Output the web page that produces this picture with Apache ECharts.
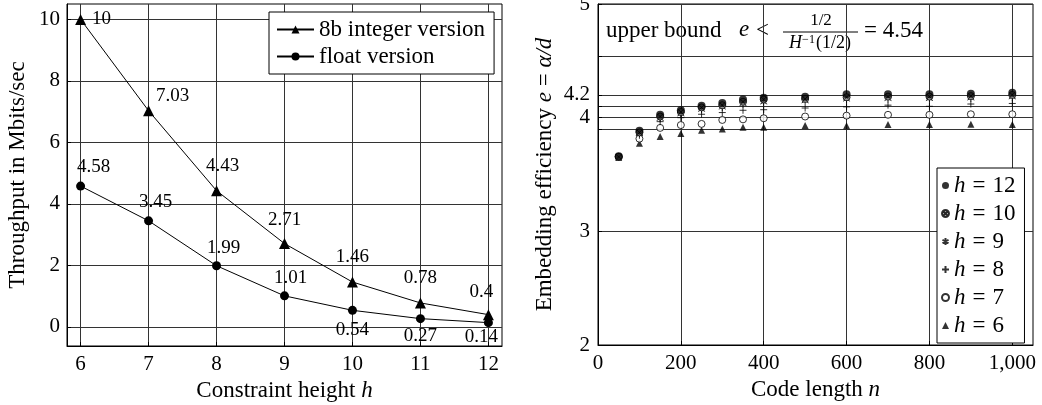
<!DOCTYPE html>
<html>
<head>
<meta charset="utf-8">
<script src="https://cdn.jsdelivr.net/npm/echarts@6/dist/echarts.min.js"></script>
<style>
  html, body { margin: 0; padding: 0; background: #fff; }
  #chart { width: 1042px; height: 405px; }
</style>
</head>
<body>
<div id="chart"></div>
<script>
// left panel: throughput vs constraint height
const heights = [6, 7, 8, 9, 10, 11, 12]
const intThroughput = [10, 7.03, 4.43, 2.71, 1.46, 0.78, 0.4]
const floatThroughput = [4.58, 3.45, 1.99, 1.01, 0.54, 0.27, 0.14]
const leftYTicks = [0, 2, 4, 6, 8, 10]

// right panel: embedding efficiency vs code length
const codeLengths = [50, 100, 150, 200, 250, 300, 350, 400, 500, 600, 700, 800, 900, 1000]
const effH12 = [3.66, 3.885, 4.025, 4.065, 4.105, 4.13, 4.16, 4.175, 4.185, 4.205, 4.205, 4.205, 4.21, 4.22]
const effH10 = [3.655, 3.87, 4.01, 4.05, 4.09, 4.11, 4.14, 4.16, 4.165, 4.18, 4.185, 4.185, 4.19, 4.2]
const effH9 = [3.655, 3.86, 3.99, 4.03, 4.07, 4.09, 4.12, 4.135, 4.145, 4.16, 4.165, 4.165, 4.17, 4.18]
const effH8 = [3.655, 3.845, 3.965, 4.0, 4.03, 4.045, 4.065, 4.07, 4.085, 4.095, 4.11, 4.1, 4.12, 4.125]
const effH7 = [3.655, 3.815, 3.91, 3.935, 3.945, 3.98, 3.985, 3.995, 4.01, 4.018, 4.025, 4.025, 4.03, 4.03]
const effH6 = [3.65, 3.775, 3.835, 3.86, 3.89, 3.9, 3.915, 3.915, 3.93, 3.928, 3.94, 3.94, 3.943, 3.94]
const rightXTicks = [0, 200, 400, 600, 800, 1000]
const rightYLabels = [2, 3, 4, 4.2, 5]
const rightYGrid = [2, 3, 3.9, 4, 4.1, 4.2, 4.54, 5]

const FONT = 'Liberation Serif'

// label offsets for the point annotations (dx, dy from the marker)
const intOffsets = [[21, 0], [24, -15], [6, -25], [0, -24], [0, -25], [0, -25], [-7, -23]]
const floatOffsets = [[13, -19], [7, -19], [7, -18], [6, -18], [0, 20], [0, 17], [-7, 14]]

function pairs(xs, ys) {
  return xs.map((x, i) => [x, ys[i]])
}

function labelled(xs, ys, offsets) {
  return xs.map((x, i) => ({
    value: [x, ys[i]],
    label: { position: 'inside', offset: offsets[i], formatter: String(ys[i]) }
  }))
}

const gridLine = { show: true, lineStyle: { color: '#333', width: 1 } }

function valueAxis(opts) {
  return Object.assign({
    type: 'value',
    axisLine: { show: true, onZero: false, lineStyle: { color: '#000' } },
    splitLine: gridLine,
    nameLocation: 'middle',
    nameTextStyle: { fontFamily: FONT, fontSize: 23, color: '#000', rich: {
      r: { fontFamily: FONT, fontSize: 23, color: '#000' },
      i: { fontFamily: FONT, fontSize: 23, color: '#000', fontStyle: 'italic' }
    } }
  }, opts)
}

function ticks(values) {
  return { show: true, inside: true, length: 4, customValues: values, lineStyle: { color: '#000' } }
}

function tickLabels(values, extra) {
  return Object.assign({
    customValues: values,
    fontFamily: FONT,
    fontSize: 21,
    color: '#000'
  }, extra)
}

const plusPath = 'path://M0,5 L10,5 M5,0 L5,10'
const starPath = 'path://M5,0 L5,10 M0.67,2.5 L9.33,7.5 M0.67,7.5 L9.33,2.5'
const otimesPath = 'path://M10,5 A5,5 0 1 1 0,5 A5,5 0 1 1 10,5 Z M1.5,1.5 L8.5,8.5 M1.5,8.5 L8.5,1.5'

const myChart = echarts.init(document.getElementById('chart'))

function txt(x, y, text, font, align) {
  return {
    type: 'text', x: x, y: y,
    style: { text: text, font: font, fill: '#000', align: align || 'left', verticalAlign: 'middle' }
  }
}

const option = {
  animation: false,
  backgroundColor: '#fff',
  textStyle: { fontFamily: FONT },
  grid: [
    { left: 67, top: 4, width: 435, height: 342, outerBoundsMode: 'none', show: true, borderColor: '#000', borderWidth: 1 },
    { left: 598, top: 4, width: 435, height: 341, outerBoundsMode: 'none', show: true, borderColor: '#000', borderWidth: 1 }
  ],
  xAxis: [
    valueAxis({
      gridIndex: 0, min: 5.8, max: 12.2,
      axisTick: ticks(heights),
      axisLabel: tickLabels(heights, { margin: 8 }),
      name: '{r|Constraint height }{i|h}', nameGap: 31
    }),
    valueAxis({
      gridIndex: 1, min: 0, max: 1050,
      axisTick: ticks(rightXTicks),
      axisLabel: tickLabels(rightXTicks, { margin: 8, formatter: v => Number(v).toLocaleString('en-US') }),
      name: '{r|Code length }{i|n}', nameGap: 31
    })
  ],
  yAxis: [
    valueAxis({
      gridIndex: 0, min: -0.62, max: 10.5,
      axisTick: ticks(leftYTicks),
      axisLabel: tickLabels(leftYTicks, { margin: 7 }),
      name: 'Throughput in Mbits/sec', nameGap: 38
    }),
    valueAxis({
      gridIndex: 1, min: 2, max: 5,
      axisTick: ticks(rightYGrid),
      axisLabel: tickLabels(rightYLabels, { margin: 8 }),
      name: '{r|Embedding efficiency }{i|e}{r| = }{i|α/d}', nameGap: 42
    })
  ],
  legend: [
    {
      left: 269, top: 12,
      orient: 'vertical',
      data: ['8b integer version', 'float version'],
      itemWidth: 37, itemHeight: 10, itemGap: 4,
      padding: [6, 9, 6, 7],
      borderColor: '#000', borderWidth: 1, borderRadius: 0,
      backgroundColor: '#fff',
      textStyle: { fontFamily: FONT, fontSize: 23, color: '#000' }
    },
    {
      left: 937, top: 168,
      orient: 'vertical',
      data: ['h = 12', 'h = 10', 'h = 9', 'h = 8', 'h = 7', 'h = 6'],
      itemWidth: 7, itemHeight: 7, itemGap: 5,
      padding: [6, 9, 6, 4],
      borderColor: '#000', borderWidth: 1, borderRadius: 0,
      backgroundColor: '#fff',
      formatter: n => '{i|h}{e|=}{r|' + n.split('=')[1].trim() + '}',
      textStyle: { fontFamily: FONT, fontSize: 23, color: '#000', rich: {
        i: { fontFamily: FONT, fontSize: 23, fontStyle: 'italic', color: '#000' },
        e: { fontFamily: FONT, fontSize: 23, color: '#000', padding: [0, 7, 0, 7] },
        r: { fontFamily: FONT, fontSize: 23, color: '#000' }
      } }
    }
  ],
  graphic: [
    txt(606, 31, 'upper bound', '23px "Liberation Serif"'),
    txt(739, 30, 'e', 'italic 23px "Liberation Serif"'),
    txt(756, 31, '<', '23px "Liberation Serif"'),
    txt(821, 21, '1/2', '17px "Liberation Serif"', 'center'),
    { type: 'line', shape: { x1: 783, y1: 32, x2: 858, y2: 32 }, style: { stroke: '#000', lineWidth: 1 } },
    {
      type: 'text', x: 820, y: 43,
      style: {
        text: '{i|H}{s|−1}{r|(1/2)}', align: 'center', verticalAlign: 'middle',
        rich: {
          i: { font: 'italic 18px "Liberation Serif"', fill: '#000' },
          s: { font: '12px "Liberation Serif"', fill: '#000', verticalAlign: 'top', padding: [0, 1, 6, 0] },
          r: { font: '18px "Liberation Serif"', fill: '#000' }
        }
      }
    },
    txt(864, 31, '= 4.54', '23px "Liberation Serif"')
  ],
  series: [
    {
      name: '8b integer version', type: 'line', xAxisIndex: 0, yAxisIndex: 0,
      data: labelled(heights, intThroughput, intOffsets),
      symbol: 'triangle', symbolSize: 11,
      lineStyle: { color: '#000', width: 1 },
      itemStyle: { color: '#000' },
      label: { show: true, fontFamily: FONT, fontSize: 19, color: '#000' },
      z: 3
    },
    {
      name: 'float version', type: 'line', xAxisIndex: 0, yAxisIndex: 0,
      data: labelled(heights, floatThroughput, floatOffsets),
      symbol: 'circle', symbolSize: 9,
      lineStyle: { color: '#000', width: 1 },
      itemStyle: { color: '#000' },
      label: { show: true, fontFamily: FONT, fontSize: 19, color: '#000' },
      z: 3
    },
    {
      name: 'h = 6', type: 'scatter', xAxisIndex: 1, yAxisIndex: 1,
      data: pairs(codeLengths, effH6), symbol: 'triangle', symbolSize: 7,
      itemStyle: { color: '#000' }
    },
    {
      name: 'h = 7', type: 'scatter', xAxisIndex: 1, yAxisIndex: 1,
      data: pairs(codeLengths, effH7), symbol: 'circle', symbolSize: 7,
      itemStyle: { color: '#fff', borderColor: '#000', borderWidth: 1 }
    },
    {
      name: 'h = 8', type: 'scatter', xAxisIndex: 1, yAxisIndex: 1,
      data: pairs(codeLengths, effH8), symbol: plusPath, symbolSize: 7,
      itemStyle: { color: 'rgba(0,0,0,0)', borderColor: '#000', borderWidth: 1 }
    },
    {
      name: 'h = 9', type: 'scatter', xAxisIndex: 1, yAxisIndex: 1,
      data: pairs(codeLengths, effH9), symbol: starPath, symbolSize: 7,
      itemStyle: { color: 'rgba(0,0,0,0)', borderColor: '#000', borderWidth: 1 }
    },
    {
      name: 'h = 10', type: 'scatter', xAxisIndex: 1, yAxisIndex: 1,
      data: pairs(codeLengths, effH10), symbol: otimesPath, symbolSize: 7,
      itemStyle: { color: '#bbb', borderColor: '#000', borderWidth: 1 }
    },
    {
      name: 'h = 12', type: 'scatter', xAxisIndex: 1, yAxisIndex: 1,
      data: pairs(codeLengths, effH12), symbol: 'circle', symbolSize: 8,
      itemStyle: { color: '#000' }
    }
  ]
}

myChart.setOption(option)
</script>
</body>
</html>
